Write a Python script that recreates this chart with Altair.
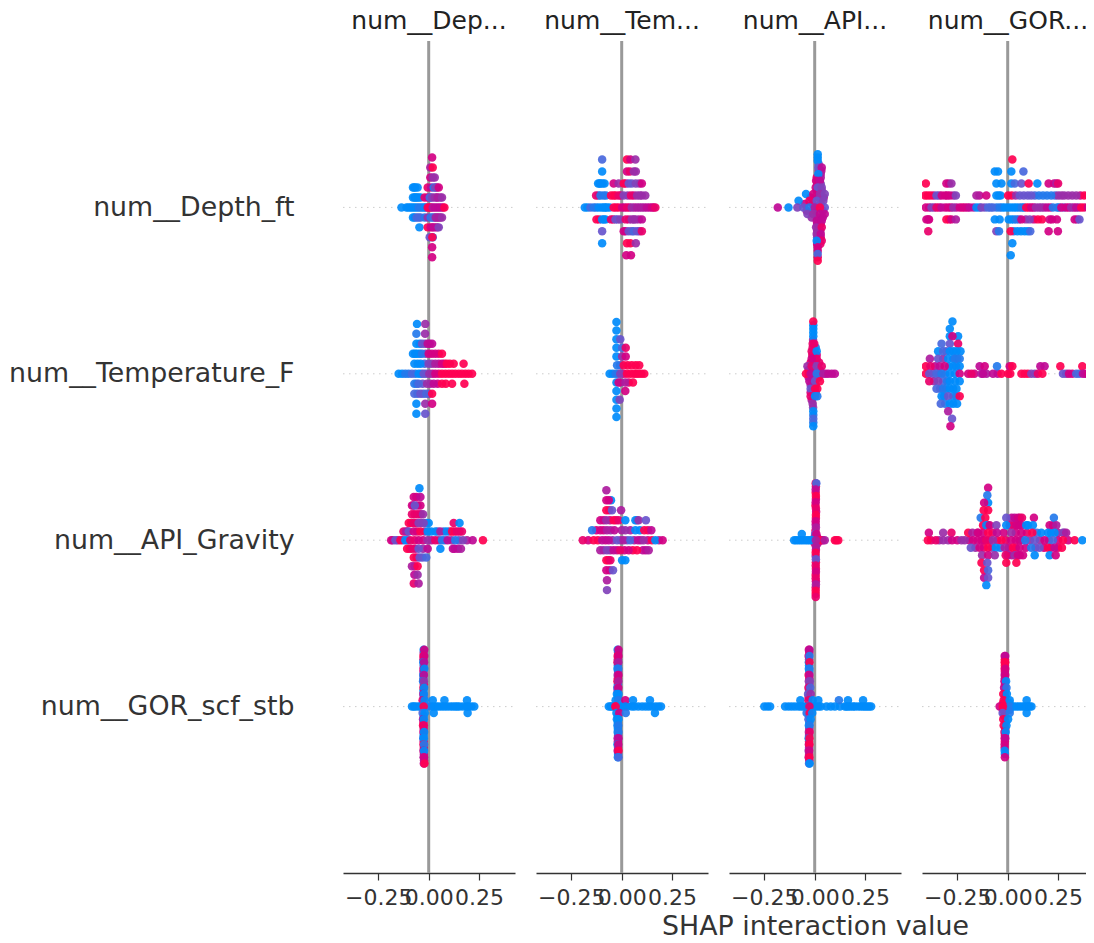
import altair as alt
import pandas as pd

FEATURES = ["num__Depth_ft", "num__Temperature_F", "num__API_Gravity", "num__GOR_scf_stb"]
TITLES = ["num__Dep...", "num__Tem...", "num__API...", "num__GOR..."]
FONT = "DejaVu Sans"

# each strand: (swarm level, SHAP values, feature value in tenths)
P1R1 = [(0,[-.11,-.09,-.07,-.03,-.012,.012,.04,.07],[0,0,0,0,5,8,6,8]),(1,[-.07,-.058,.01,.04,.058],[0,0,4,7,5]),
 (-1,[-.07,-.04,.028,.042,.058],[0,2,4,6,5]),(2,[-.072,.04],[0,7]),(-2,[.018,.035,.043],[8,6,6]),
 (5,[.017],[8]),(4,[.008,.02],[6,10]),(3,[.008,.02,.03],[8,5,5]),
 (2,[-.078,-.066,-.055,-.005,.012,.025,.033,.05],[0,0,0,9,7,1,4,8]),
 (1,[-.078,-.065,-.05,-.04,-.02,-.005,.005,.018,.03,.045,.066],[0,0,0,0,9,8,2,4,5,6,5]),
 (0,[-.135,-.1,-.08,-.06,-.05,-.04,-.02,-.005,.005,.02,.03,.05,.06,.078],[0,0,0,0,1,1,0,10,10,6,7,7,7,10]),
 (-1,[-.078,-.06,-.05,-.02,-.005,.01,.02,.035,.05,.066],[0,2,2,1,5,1,2,6,6,5]),
 (-2,[-.046,-.005,.01,.025,.05],[0,10,8,7,4]),(-3,[.02,.005,.018],[1,3,10]),(-4,[.017],[8]),(-5,[.017],[8])]
P2R1 = [(0,[-.17,-.127,-.1,-.081,-.06,-.028,.014,.038,.063,.088,.112,.138,.158],[0,1,0,0,0,9,7,8,7,6,6,7,8]),
 (1,[-.115,-.09,-.04,-.005,.03,.06,.09],[1,1,10,7,5,8,5]),(-1,[-.112,-.088,-.042,-.02,.035,.06,.085],[9,0,9,4,7,5,6]),
 (2,[-.11,-.095,.02,.088],[0,0,8,6]),(-2,[.02,.05,.088],[7,3,6]),
 (4,[-.097,.026,.043,.068],[2,10,8,5]),(3,[-.097,.026,.04,.06,.07],[0,8,9,5,5]),
 (2,[-.117,-.105,-.085,-.04,-.015,.01,.035,.05,.07,.1],[0,0,0,8,5,10,3,3,4,8]),
 (1,[-.127,-.105,-.078,-.053,-.03,-.015,.01,.046,.076,.1,.117],[9,1,1,10,10,9,4,9,5,5,5]),
 (0,[-.183,-.155,-.139,-.114,-.089,-.073,-.04,-.015,.002,.026,.05,.076,.1,.125,.15,.167],[0,2,1,0,0,0,10,10,8,9,5,6,6,7,8,9]),
 (-1,[-.125,-.097,-.08,-.053,-.031,-.007,.02,.05,.068,.1],[10,0,0,9,3,4,9,5,5,7]),
 (-2,[-.097,.01,.035,.06,.076,.1],[3,8,3,2,3,9]),(-3,[-.097,.026,.043,.07],[0,10,10,5]),(-4,[.023,.046],[8,8])]
P3R1 = [(7.5,[.015],[0]),(6.5,[.02],[3]),(5.5,[.02,.033],[5,7]),(4.5,[.01,.03],[9,6]),(3.5,[.012,.03],[7,4]),
 (2.5,[.01,.035],[9,5]),(1.5,[-.02,.02,.045],[9,5,6]),(.5,[-.05,-.01,.03],[8,6,5]),(-.5,[-.04,.0,.04],[6,9,7]),
 (-1.5,[-.015,.02,.04],[5,9,7]),(-2.5,[.012,.03],[7,9]),(-3.5,[.012,.028],[5,6]),(-4.5,[.012,.03],[3,8]),
 (-5.5,[.012,.028],[8,9]),(-6.5,[.015],[8]),(-7.5,[.015],[9]),
 (8,[.015],[0]),(7,[.015],[0]),(6,[.018,.035],[3,7]),(5,[.03,.018],[6,0]),(4,[.007,.026],[8,7]),
 (3,[.005,.015,.035],[8,3,4]),(2,[-.043,-.007,.026,.05],[0,8,5,4]),(1,[-.08,-.026,.01,.043],[0,9,3,4]),
 (0,[-.183,-.13,-.086,-.056,-.026,0.0,.05,.026],[7,0,4,3,1,6,3,10]),
 (-1,[-.036,-.007,.026,.05],[4,5,7,7]),(-2,[.01,.035],[7,7]),(-3,[.007,.035],[5,9]),(-4,[.01,.03],[5,7]),
 (-5,[.035,.01],[9,0]),(-6,[.015],[8]),(-7,[.015],[2]),(-8,[.015],[10])]
P4R1 = [(0,[-.39,-.365,-.34,-.31,-.282,-.255,-.225,-.2,-.17,-.14,-.113,-.085,-.055,-.028,.0,.03,.057,.08,.105,.128,.155,.18,.21,.255,.278,.303,.328,.352,.38,.41],[8,5,8,8,8,7,9,8,6,1,3,2,1,0,0,0,1,0,9,8,5,6,8,1,3,8,7,5,9,8]),
 (1,[-.397,-.368,-.34,-.31,-.3,-.27,-.14,-.045,.02,.04,.08,.1,.135,.155,.195,.235,.25,.28,.32,.36,.38,.41],[10,8,5,8,8,5,7,0,10,5,3,3,2,1,1,2,5,5,5,8,10,10]),
 (-1,[-.39,-.29,.005,.03,.055,.09,.13,.17,.22,.345],[8,10,0,0,4,5,8,10,8,5]),
 (2,[-.292,.23],[6,8]),(-2,[.03,.066,.1],[1,0,0]),
 (4,[.023],[10]),(3,[-.064,-.048,.018,.078],[0,0,0,2]),
 (2,[-.406,-.304,-.279,-.056,-.031,.018,.035,.068,.104,.147,.203,.241,.25],[10,8,5,0,0,0,2,3,10,0,8,6,9]),
 (1,[-.41,-.383,-.353,-.327,-.287,-.257,-.155,-.106,-.056,-.035,.002,.06,.117,.175,.216,.266,.3,.34,.398,.42],[10,10,3,8,8,4,6,8,0,0,10,3,3,1,1,5,5,5,10,10]),
 (0,[-.406,-.378,-.353,-.328,-.295,-.27,-.238,-.213,-.188,-.155,-.13,-.097,-.073,-.04,-.015,.015,.043,.07,.092,.117,.14,.167,.195,.224,.245,.266,.29,.315,.34,.365,.398,.42],[8,4,9,7,8,5,8,8,7,0,4,2,2,1,0,0,0,1,10,8,5,5,7,1,1,8,8,5,7,10,8,2]),
 (-1,[-.403,-.394,-.304,-.279,-.257,-.064,-.04,.018,.043,.068,.109,.15,.208,.244,.332,.356,.41],[8,8,10,8,6,0,0,0,1,8,4,10,8,8,8,3,10]),
 (-2,[-.394,-.056,-.043,.015,.048,.084,.112,.203,.249],[9,4,1,10,0,0,2,8,8]),(-3,[.023],[0]),(-4,[.015],[0])]

P1R2 = [(0,[-.132,-.1,-.066,-.037,-.012,.018,.05,.083,.116,.149,.182],[0,1,1,1,3,7,9,10,10,10,10]),
 (1,[-.055,-.02,.016,.05,.078,.105],[0,2,5,7,9,10]),(-1,[-.06,-.03,.008,.045,.085],[2,3,6,8,10]),
 (2,[-.068,-.045,-.015,.016,.05],[0,0,4,8,9]),(-2,[-.056,-.027,.002],[2,2,5]),(3,[-.045,-.018,.005],[0,4,7]),
 (5,[-.058,-.017],[0,5]),(4,[-.061,-.018],[1,5]),(3,[-.061,-.033,-.005,.017],[0,3,7,7]),
 (2,[-.078,-.058,-.033,0.0,.033,.066],[0,0,1,8,8,10]),(1,[-.071,-.04,0.0,.033,.066,.09,.124,.173],[0,0,4,6,8,10,10,10]),
 (0,[-.149,-.116,-.083,-.05,-.025,.003,.033,.066,.1,.132,.165,.198,.215],[0,1,2,0,3,5,8,10,10,10,10,10,10]),
 (-1,[-.071,-.05,-.008,.025,.066,.116,.177],[1,2,5,7,10,10,10]),(-2,[-.071,-.041,-.012,.017],[2,3,2,10]),
 (-3,[-.061,-.017,.017],[0,5,8]),(-4,[-.061,-.017],[0,3])]
P2R2 = [(0,[-.045,-.018,.01,.043,.072,.098],[0,3,8,10,10,10]),(1,[-.008,.03,.07],[3,10,10]),(-1,[-.005,.035],[5,9]),
 (6,[-.026],[0]),(5,[-.026],[0]),(4,[-.026,-.007],[0,3]),(3,[-.026,.002,.02],[0,2,9]),(2,[-.026,.002,.02],[0,5,8]),
 (1,[-.023,.01,.05,.087],[1,10,10,10]),(0,[-.06,-.03,-.007,.026,.06,.084,.112],[0,1,4,10,10,10,10]),
 (-1,[-.026,-.015,.018,.056],[0,8,6,10]),(-2,[-.026,.018],[0,8]),(-3,[-.026,-.01],[0,4]),(-4,[-.026],[0]),(-5,[-.026],[0])]
P3R2 = [(6.5,[-.007],[0]),(5.5,[-.007],[0]),(4.5,[-.008],[5]),(3.5,[-.01,.005],[9,1]),(2.5,[-.012,.01],[9,8]),
 (1.5,[-.02,.005,.022],[9,3,9]),(.5,[-.03,.0,.025],[8,2,7]),(-.5,[-.03,.0,.02],[7,3,8]),(-1.5,[-.02,.005],[5,10]),
 (-2.5,[-.02,.005],[8,0]),(-3.5,[-.015],[6]),(-4.5,[-.008],[4]),(-5.5,[-.007],[1]),(-6.5,[-.007],[1]),
 (0,[-.03,-.005,.02,.055,.085],[9,4,5,7,7]),
 (7,[-.007],[10]),(6,[-.007],[0]),(5,[-.007],[0]),(4,[-.01,-.002],[9,9]),(3,[-.015,.01],[9,0]),(2,[.01,-.015],[9,8]),
 (1,[-.036,-.015,.01,.035],[5,9,4,9]),(0,[-.043,-.02,.01,.043,.068,.1],[10,7,1,6,7,7]),
 (-1,[-.026,.002,.026],[7,3,10]),(-2,[-.02,.002,.013],[3,10,10]),(-3,[-.02,.002,.013],[9,0,1]),
 (-4,[-.01],[5]),(-5,[-.007],[0]),(-6,[-.007],[2]),(-7,[-.007],[0])]
P4R2 = [(0,[-.37,-.34,-.31,-.262,-.165,-.105,-.05,.002,.1,.135,.29,.32,.355,.385,.41],[3,2,1,0,8,6,7,10,10,4,5,8,2,7,8]),
 (3,[-.305,-.27],[3,0]),(2,[-.32,-.27,-.25],[5,0,0]),(1,[-.36,-.29,-.255],[7,0,1]),(-1,[-.365,-.32,-.3,-.26],[5,2,1,0]),
 (-2,[-.335,-.305,-.27],[2,0,0]),(-3,[-.315,-.27,-.255],[1,0,1]),(-4,[-.31,-.27],[1,0]),
 (7,[-.274],[0]),(6,[-.287],[0]),(5,[-.287,-.246,-.274],[0,0,8]),(4,[-.328,-.287,-.246],[2,3,9]),
 (3,[-.345,-.32,-.287,-.254,-.234],[0,2,0,0,0]),(2,[-.386,-.345,-.295,-.262,-.238],[6,3,0,1,1]),
 (1,[-.406,-.383,-.337,-.312,-.271,-.238,-.139,-.114,-.053,.01,.023,.162,.183,.261,.37,.414],[10,9,7,8,0,0,7,8,1,8,10,7,7,10,10,8]),
 (0,[-.406,-.389,-.353,-.328,-.287,-.238,-.196,-.18,-.13,-.122,-.073,-.031,.013,.068,.084,.117,.15,.172,.274,.304,.34,.373,.398,.419],[10,3,2,1,0,8,8,9,6,7,7,10,10,10,10,4,9,10,3,8,2,7,8,10]),
 (-1,[-.389,-.345,-.287,-.238],[9,4,0,0]),(-2,[-.353,-.32,-.287,-.254],[2,1,0,0]),(-3,[-.328,-.295,-.238],[0,3,10]),
 (-4,[-.332,-.287,-.251],[2,0,0]),(-5,[-.295],[6]),(-6,[-.276],[3]),(-7,[-.284],[8])]

P1R3 = [(0,[-.178,-.153,-.128,-.104,-.07,-.028,.015,.05,.08,.113,.15,.19],[5,8,4,1,9,8,7,5,2,5,3,6]),
 (1,[-.125,-.105,-.058,-.02,.012,.045,.075,.105,.128,.153],[9,8,9,5,0,3,1,10,9,9]),(2,[-.087,-.062,-.038,-.012],[10,9,5,0]),
 (-1,[-.095,-.067,-.028,.128,.145],[10,8,5,7,7]),(3,[-.07,-.04],[9,7]),(-2,[-.06,-.03],[8,3]),(4,[-.076,-.055],[8,8]),(-3,[-.07],[9]),
 (6,[-.046],[0]),(5,[-.074,-.061,-.041],[8,8,7]),(4,[-.083,-.041,-.069],[8,8,3]),(3,[-.083,-.054,-.028],[9,9,5]),
 (2,[0.0,-.099,-.074,-.05,-.025,.124,.153],[0,10,9,4,4,9,0]),
 (1,[-.112,-.099,-.074,-.041,-.005,.033,.058,.09,.116,.14,.165],[6,3,8,10,0,0,6,0,10,9,9]),
 (0,[-.186,-.165,-.14,-.116,-.091,-.05,-.005,.033,.066,.094,.132,.17,.218,.269],[8,3,10,0,9,8,5,9,1,7,1,4,7,10]),
 (-1,[-.107,-.083,-.05,-.005,.058,.12,.16],[10,9,3,7,0,7,6]),(-2,[-.074,-.045,-.012],[10,3,2]),(-3,[-.083,-.055],[6,10]),
 (-4,[-.071,-.055],[7,5]),(-5,[-.074,-.05],[9,6])]
P2R3 = [(0,[-.166,-.118,-.08,-.045,-.006,.027,.062,.095,.13,.185],[8,10,8,5,6,3,6,6,8,6]),(1,[-.126,-.09,-.055,.0,.043,.09,.13],[8,8,5,6,6,0,9]),
 (-1,[-.09,-.057,-.023,.014,.055,.105,.12],[5,6,8,8,10,7,7]),(2,[-.09,-.058,-.028,.076],[8,8,9,2]),(-2,[-.066],[10]),(3,[-.062],[7]),(-3,[-.06],[7]),
 (5,[-.076],[6]),(4,[-.053,-.076,-.064],[0,8,8]),(3,[-.076,-.048,-.003],[10,3,6]),
 (2,[-.106,-.076,-.04,-.015,.018,.068,.084,.12],[8,5,10,9,0,0,5,3]),
 (1,[-.147,-.106,-.073,-.036,.018,.068,.112,.147],[1,8,6,7,5,0,10,7]),
 (0,[-.193,-.139,-.097,-.064,-.023,.01,.043,.081,.109,.15,.167,.203],[9,10,7,7,3,6,2,7,5,10,0,8]),
 (-1,[-.106,-.073,-.04,-.007,.035,.076,.134],[6,4,7,9,8,10,6]),(-2,[-.076,-.056,.002,.018],[10,9,0,0]),
 (-3,[-.076,-.043],[8,3]),(-4,[-.073],[6]),(-5,[-.073],[4])]
P3R3 = [(8.5,[.006],[9]),(7.5,[.005],[10]),(6.5,[.006],[8]),(5.5,[.004],[10]),(4.5,[.007],[8]),(3.5,[.006],[9]),(2.5,[.005],[7]),(1.5,[.004],[9]),(.5,[.0,.012],[6,8]),
 (-.5,[.0,.015],[9,7]),(-1.5,[.006],[8]),(-2.5,[.005],[5]),(-3.5,[.006],[10]),(-4.5,[.006],[9]),(-5.5,[.005],[10]),(-6.5,[.006],[8]),(-7.5,[.005],[9]),(-8.5,[.005],[10]),
 (0,[-.092,-.07,-.047,-.026,.035,.04,.108],[0,0,0,0,8,8,10]),
 (9,[.005,.008],[10,2]),(8,[.005],[7]),(7,[.006],[10]),(6,[.005],[8]),(5,[.006],[9]),(4,[.006],[10]),
 (3,[.005],[8]),(2,[.006],[6]),(1,[-.064,.002,.008],[0,3,8]),
 (0,[-.102,-.081,-.059,-.036,-.015,.026,.05,.1,.117,.006],[0,0,0,0,0,10,6,10,10,6]),
 (-1,[.006],[6]),(-2,[.005],[10]),(-3,[.006],[3]),(-4,[.005],[9]),(-5,[.006],[8]),(-6,[.005],[9]),(-7,[.006],[6]),(-8,[.005],[10]),(-9,[.005],[9])]
P4R3 = [(0,[-.38,-.34,-.25,-.19,-.15,-.118,-.09,-.052,-.01,.04,.073,.11,.16,.205,.25,.3],[9,5,8,8,8,9,8,9,9,8,1,5,5,1,8,8]),
 (1,[-.15,-.122,-.075,-.02,.04,.095,.145,.215,.25,.28],[8,8,9,8,8,9,2,0,6,5]),
 (-1,[-.16,-.118,-.078,-.037,.005,.04,.09,.138,.18,.215,.25],[5,9,4,1,8,9,8,4,8,8,9]),
 (2,[-.097,.01,.03,.055,.1,.225],[9,8,9,8,0,8]),(-2,[.0,.06,.02],[5,8,7]),(3,[.02,.06],[7,9]),
 (7,[-.097],[8]),(6,[-.101],[1]),(5,[-.097,-.117],[0,8]),(4,[-.119,-.097],[10,10]),
 (3,[-.134,-.111,-.007,.035,.051,.071,.13,.229],[1,10,3,7,8,9,8,1]),
 (2,[-.122,-.106,-.089,-.056,-.007,.043,.068,.092,.125,.208,.241],[10,0,8,4,0,8,8,0,0,8,6]),
 (1,[-.391,-.32,-.279,-.196,-.175,-.147,-.097,-.053,.018,.068,.122,.167,.2,.233,.274,.29],[8,5,9,10,6,8,10,7,5,8,10,0,0,0,4,6]),
 (0,[-.396,-.356,-.32,-.295,-.276,-.229,-.213,-.172,-.13,-.106,-.073,-.031,.018,.059,.087,.134,.183,.224,.274,.332,.37,.422],[10,9,5,5,8,5,5,8,8,9,5,10,8,8,1,3,8,2,10,10,0,5]),
 (-1,[-.183,-.139,-.097,-.059,-.015,.026,.059,.117,.158,.2,.233,.269],[3,8,10,0,6,10,8,1,3,10,7,10]),
 (-2,[-.127,-.097,-.064,-.01,.035,.051,.076,.134,.208,.238],[5,8,5,9,5,8,8,0,0,8]),
 (-3,[-.13,-.101,-.007,.043],[10,3,10,10]),(-4,[-.117,-.097],[10,2]),(-5,[-.117,-.097],[7,3]),(-6,[-.106],[0])]

P1R4 = [(8.5,[-.025],[5]),(7.5,[-.026],[8]),(6.5,[-.025],[2]),(5.5,[-.026],[7]),(4.5,[-.026],[3]),(3.5,[-.024],[9]),(2.5,[-.026],[0]),(1.5,[-.025],[4]),
 (-1.5,[-.025],[0]),(-2.5,[-.026],[9]),(-3.5,[-.025],[8]),(-4.5,[-.025],[0]),(-5.5,[-.025],[8]),(-6.5,[-.024],[9]),(-7.5,[-.024],[7]),(-8.5,[-.023],[8]),
 (0,[-.074,-.052,.012,.038,.064,.092,.12,.142,.17,.212],[0,0,0,0,0,0,0,0,0,0]),
 (9,[-.025,-.022],[0,8]),(8,[-.026,-.022],[10,8]),(7,[-.027,-.023],[0,7]),(6,[-.026,-.022],[8,0]),
 (5,[-.027,-.024],[0,7]),(4,[-.028,-.024],[0,5]),(3,[-.026,-.023],[10,0]),(2,[-.027,-.024],[7,0]),
 (1,[-.03,-.02,.02,.078,.19],[9,0,0,0,0]),
 (0,[-.083,-.066,-.041,-.005,.025,.05,.078,.107,.132,.153,.187,.198,.226,-.025],[0,0,0,1,0,0,0,0,0,0,0,0,0,10]),
 (-1,[-.03,-.02,.025,.193],[2,0,0,0]),(-2,[-.028,-.024],[7,0]),(-3,[-.028,-.024],[10,9]),(-4,[-.026,-.023],[8,0]),
 (-5,[-.027,-.024],[1,0]),(-6,[-.026,-.023],[10,1]),(-7,[-.026,-.023],[8,0]),(-8,[-.025,-.023],[6,8]),(-9,[-.024,-.021],[7,10])]
P2R4 = [(8.5,[-.018],[8]),(7.5,[-.019],[5]),(6.5,[-.019],[1]),(5.5,[-.018],[6]),(4.5,[-.019],[9]),(3.5,[-.019],[1]),(2.5,[-.02],[6]),(1.5,[-.02],[0]),
 (-1.5,[-.02],[0]),(-2.5,[-.019],[1]),(-3.5,[-.019],[0]),(-4.5,[-.018],[4]),(-5.5,[-.019],[8]),(-6.5,[-.018],[9]),(-7.5,[-.018],[1]),
 (0,[-.055,-.04,.004,.03,.05,.082,.118,.15,.182],[0,0,0,0,0,0,0,0,0]),
 (9,[-.02,-.016],[0,8]),(8,[-.02,-.016],[10,8]),(7,[-.021,-.017],[9,6]),(6,[-.021,-.017],[0,1]),
 (5,[-.02,-.016],[5,8]),(4,[-.021,-.017],[10,6]),(3,[-.022,-.017],[2,8]),(2,[-.024,-.016],[0,0]),
 (1,[-.03,-.016,.018,.056,.14],[0,1,8,0,0]),
 (0,[-.064,-.048,-.031,-.007,.018,.063,.101,.134,.167,.195,-.03],[0,0,10,0,0,0,0,0,0,0,10]),
 (-1,[-.026,-.012,.02,.165],[0,8,1,0]),(-2,[-.024,-.016],[0,0]),(-3,[-.021,-.017],[0,1]),(-4,[-.02,-.016],[0,1]),
 (-5,[-.02,-.016],[6,7]),(-6,[-.021,-.017],[0,8]),(-7,[-.02,-.016],[7,10]),(-8,[-.019,-.016],[0,2])]
P3R4 = [(8.5,[-.027],[8]),(7.5,[-.028],[5]),(6.5,[-.028],[0]),(5.5,[-.027],[1]),(4.5,[-.027],[8]),(3.5,[-.026],[5]),(2.5,[-.028],[4]),(1.5,[-.03],[9]),
 (-1.5,[-.028],[1]),(-2.5,[-.027],[0]),(-3.5,[-.027],[8]),(-4.5,[-.028],[7]),(-5.5,[-.028],[10]),(-6.5,[-.028],[6]),(-7.5,[-.028],[9]),(-8.5,[-.027],[7]),
 (0,[-.235,-.13,-.098,-.068,-.043,-.02,.005,.03,.08,.125,.158,.178,.2,.228,.25,.27],[0,0,0,0,0,0,0,0,0,0,0,0,0,0,0,0]),
 (9,[-.029,-.026],[8,7]),(8,[-.03,-.026],[8,1]),(7,[-.029,-.026],[0,10]),(6,[-.029,-.026],[0,1]),
 (5,[-.03,-.026],[10,7]),(4,[-.029,-.024],[5,4]),(3,[-.031,-.022],[9,2]),(2,[-.033,-.02],[3,5]),
 (1,[-.071,-.031,-.01,.018,.12,.165,.24],[0,9,0,0,1,0,0]),
 (0,[-.25,-.221,-.147,-.114,-.081,-.056,-.031,-.007,.018,.059,.1,.15,.167,.19,.215,.24,.26,.28,-.026],[0,0,0,0,0,0,0,0,0,0,0,0,0,0,0,0,0,0,9]),
 (-1,[-.04,-.025,-.012],[1,10,0]),(-2,[-.031,-.02],[2,0]),(-3,[-.029,-.025],[0,1]),(-4,[-.029,-.025],[6,9]),
 (-5,[-.03,-.026],[0,10]),(-6,[-.029,-.026],[8,10]),(-7,[-.03,-.027],[5,8]),(-8,[-.03,-.026],[8,10]),(-9,[-.028,-.025],[2,0])]
P4R4 = [(7.5,[-.014],[10]),(6.5,[-.014],[10]),(5.5,[-.014],[8]),(4.5,[-.014],[7]),(3.5,[-.014],[8]),(2.5,[-.012],[1]),(1.5,[-.012],[0]),(.5,[-.024,.01],[10,0]),
 (-.5,[-.024,.01],[9,0]),(-1.5,[-.018],[10]),(-2.5,[-.01],[1]),(-3.5,[-.012],[10]),(-4.5,[-.014],[8]),(-5.5,[-.014],[9]),(-6.5,[-.015],[8]),(-7.5,[-.014],[1]),
 (0,[.03,.055,.08,.1],[0,0,0,0]),
 (8,[-.015,-.012],[8,7]),(7,[-.015,-.012],[10,10]),(6,[-.015,-.012],[10,8]),(5,[-.015,-.012],[7,8]),
 (4,[-.016,-.008],[8,0]),(3,[-.018,-.006],[7,1]),(2,[-.022,-.004],[10,0]),
 (1,[-.02,.01,.094],[10,0,0]),
 (0,[-.04,-.02,.01,.043,.068,.092,.109,.118,-.024],[8,10,1,0,0,0,0,0,10]),
 (-1,[-.025,.01,.094],[3,1,0]),(-2,[-.022,.002],[10,0]),(-3,[-.02,-.006],[10,0]),(-4,[-.016,-.01],[9,0]),
 (-5,[-.015,-.012],[9,7]),(-6,[-.015],[8]),(-7,[-.015],[0]),(-8,[-.014],[8])]

PANELS = [[P1R1,P1R2,P1R3,P1R4],[P2R1,P2R2,P2R3,P2R4],[P3R1,P3R2,P3R3,P3R4],[P4R1,P4R2,P4R3,P4R4]]
LAYER_GAPS = [[.06,.06,.052,.038],[.072,.052,.06,.038],[.04,.045,.038,.038],[.072,.045,.045,.038]]
TICKS = [-0.25, 0, 0.25]
XLIM = [-0.425, 0.428]
COLOR_DOMAIN = [0, 2.5, 5, 7.5, 10]
COLOR_RANGE = ["#008bfb", "#5b5fd6", "#9a2ea8", "#c80090", "#ff0051"]
LABEL_EXPR = "[" + ",".join(f"'{f}'" for f in FEATURES) + "][datum.value]"

def panel(i):
    rows = []
    order = 0
    for r, strands in enumerate(PANELS[i]):
        for level, xs, cs in strands:
            for x, c in zip(xs, cs):
                rows.append({"x": x, "y": r - level * LAYER_GAPS[i][r], "c": c, "o": order})
                order += 1
    df = pd.DataFrame(rows)
    xs = alt.Scale(domain=XLIM, nice=False, zero=False)
    ys = alt.Scale(domain=[-1, 4], reverse=True, nice=False, zero=False)
    yaxis = None
    if i == 0:
        yaxis = alt.Axis(values=[0, 1, 2, 3], labelExpr=LABEL_EXPR, title=None, ticks=False, domain=False, grid=False,
                         labelFont=FONT, labelFontSize=26.8, labelColor="#333333", labelPadding=49, labelBound=False, labelOverlap=False, labelLimit=500)
    xaxis = alt.Axis(values=TICKS, format=".2f", title="SHAP interaction value" if i == 2 else None, grid=False,
                     labelFont=FONT, labelFontSize=22, labelColor="#333333", labelFlush=False, labelOverlap=False, labelPadding=7,
                     tickColor="#333333", tickSize=7, tickWidth=1.2, domainColor="#333333", domainWidth=1.5,
                     titleFont=FONT, titleFontSize=26.8, titleFontWeight="normal", titleColor="#333333", titlePadding=5)
    rules = alt.Chart(pd.DataFrame({"row": [0, 1, 2, 3]})).mark_rule(color="#cccccc", strokeWidth=1, strokeDash=[1.5, 4.5]).encode(
        y=alt.Y("row:Q", scale=ys, axis=yaxis), x=alt.value(0), x2=alt.value(172))
    zero = alt.Chart(pd.DataFrame({"z": [0]})).mark_rule(color="#999999", strokeWidth=3).encode(
        x=alt.X("z:Q", scale=xs, axis=xaxis))
    dots = alt.Chart(df).mark_circle(size=72, opacity=0.92, clip=True).encode(
        x=alt.X("x:Q", scale=xs),
        y=alt.Y("y:Q", scale=ys),
        color=alt.Color("c:Q", scale=alt.Scale(domain=COLOR_DOMAIN, range=COLOR_RANGE, interpolate="rgb"), legend=None),
        order="o:Q")
    return alt.layer(rules, zero, dots).properties(
        width=172, height=832,
        title=alt.TitleParams(TITLES[i], font=FONT, fontSize=25, fontWeight="normal", color="#222222", anchor="middle", offset=6))

chart = alt.hconcat(*[panel(i) for i in range(4)], spacing=21, bounds="flush").properties(
    padding={"left": 0, "top": 0, "right": -9, "bottom": -5}).configure_view(stroke=None).configure_axis(grid=False)
chart.save("out.html", embed_options={"renderer": "svg", "actions": False})
